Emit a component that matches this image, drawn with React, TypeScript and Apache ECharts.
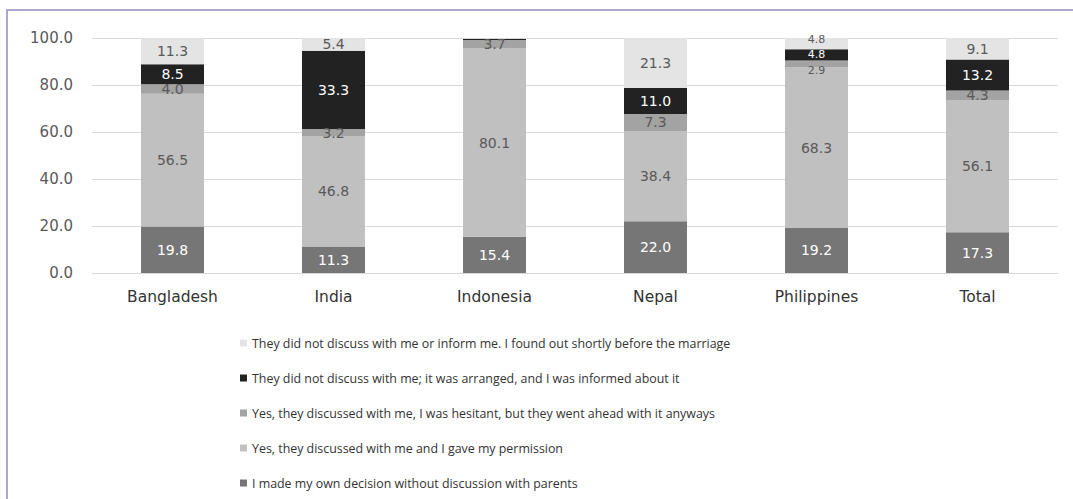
import React, { useEffect, useRef } from "react";
import * as echarts from "echarts";

const categories = ["Bangladesh", "India", "Indonesia", "Nepal", "Philippines", "Total"];

const ownDecision = [19.8, 11.3, 15.4, 22.0, 19.2, 17.3];
const gavePermission = [56.5, 46.8, 80.1, 38.4, 68.3, 56.1];
const hesitant = [4.0, 3.2, 3.7, 7.3, 2.9, 4.3];
const arranged = [8.5, 33.3, 0.5, 11.0, 4.8, 13.2];
const foundOut = [11.3, 5.4, 0.3, 21.3, 4.8, 9.1];

const seriesNames = [
  "I made my own decision without discussion with parents",
  "Yes, they discussed with me and I gave my permission",
  "Yes, they discussed with me, I was hesitant, but they went ahead with it anyways",
  "They did not discuss with me; it was arranged, and I was informed about it",
  "They did not discuss with me or inform me. I found out shortly before the marriage",
];

const yTicks = [0, 20, 40, 60, 80, 100];

export default function App() {
  const ref = useRef<HTMLDivElement>(null);

  useEffect(() => {
    document.body.style.margin = "0";
    if (!ref.current) return;
    const chart = echarts.init(ref.current, null, { renderer: "svg" });

    const dataSets = [ownDecision, gavePermission, hesitant, arranged, foundOut];
    const colors = ["#767676", "#c0c0c0", "#a3a3a3", "#222222", "#e4e4e4"];
    const labelColors = ["#ffffff", "#595959", "#595959", "#ffffff", "#595959"];
    const numFont = "DejaVu Sans";
    const crowdedIdx = categories.indexOf("Philippines");
    // label tweaks for the crowded Philippines stack (series index -> label override)
    const crowdedLabel: Record<number, any> = {
      2: { offset: [0, 7], fontSize: 11 },
      3: { fontSize: 11 },
      4: { offset: [0, -4], fontSize: 11 },
    };

    chart.setOption({
      animation: false,
      backgroundColor: "#ffffff",
      graphic: [
        { type: "line", shape: { x1: 6, y1: 10, x2: 1073, y2: 10 }, style: { stroke: "#aca5cc", lineWidth: 2 } },
        { type: "line", shape: { x1: 7, y1: 9, x2: 7, y2: 499 }, style: { stroke: "#aca5cc", lineWidth: 2 } },
      ],
      grid: { left: 92, right: 15, top: 38, bottom: 226, containLabel: false },
      legend: {
        orient: "vertical",
        left: 235,
        top: 331,
        itemWidth: 7,
        itemHeight: 7,
        itemGap: 21,
        icon: "rect",
        data: [seriesNames[4], seriesNames[3], seriesNames[2], seriesNames[1], seriesNames[0]],
        textStyle: { fontFamily: "Open Sans", fontSize: 12.4, color: "#333333", lineHeight: 14 },
      },
      xAxis: {
        type: "category",
        data: categories,
        axisTick: { show: false },
        axisLine: { show: true, lineStyle: { color: "#d9d9d9", width: 1 } },
        axisLabel: { color: "#333333", fontFamily: numFont, fontSize: 15.5, margin: 16 },
      },
      yAxis: {
        type: "value",
        min: yTicks[0],
        max: yTicks[yTicks.length - 1],
        interval: 20,
        axisLine: { show: false },
        axisTick: { show: false },
        splitLine: { lineStyle: { color: "#d9d9d9", width: 1 } },
        axisLabel: {
          color: "#595959",
          fontFamily: numFont,
          fontSize: 15,
          margin: 19,
          formatter: (v: number) => v.toFixed(1),
        },
      },
      series: dataSets.map((d, i) => ({
        name: seriesNames[i],
        type: "bar",
        stack: "total",
        barWidth: 63,
        data: d.map((v, j) =>
          j === crowdedIdx && crowdedLabel[i] ? { value: v, label: crowdedLabel[i] } : v
        ),
        itemStyle: { color: colors[i] },
        label: {
          show: true,
          position: "inside",
          color: labelColors[i],
          fontFamily: numFont,
          fontSize: 14,
          formatter: (p: any) => (p.value >= 1 ? Number(p.value).toFixed(1) : ""),
        },
      })),
    });

    return () => chart.dispose();
  }, []);

  return <div ref={ref} style={{ width: 1073, height: 499 }} />;
}
